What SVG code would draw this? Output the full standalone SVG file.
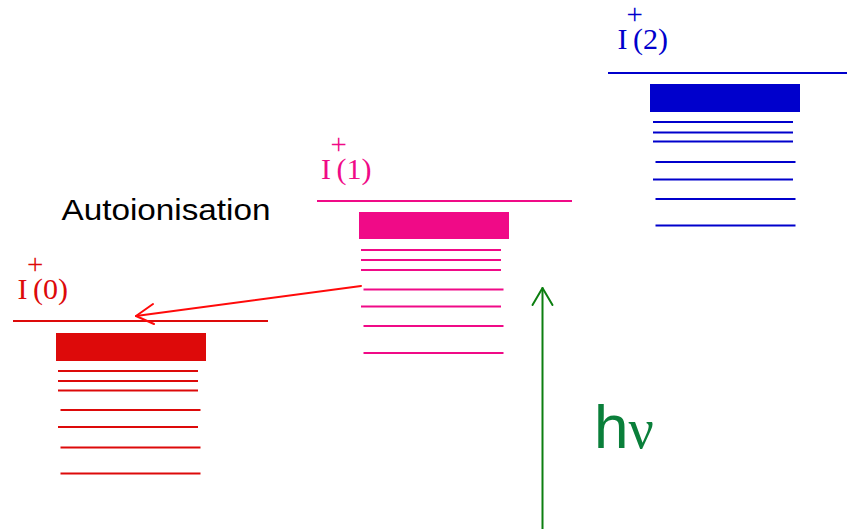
<svg xmlns="http://www.w3.org/2000/svg" width="847" height="529" viewBox="0 0 847 529">
<style>
.lbl{font-family:"Liberation Serif","Times New Roman",serif;font-size:30px}
.plus{font-family:"Liberation Serif","Times New Roman",serif;font-size:29px}
.lv{stroke-width:2;fill:none}
.red{stroke:#dd0a0a}
.pink{stroke:#f00a87}
.blue{stroke:#0000cc}
</style>
<rect width="847" height="529" fill="#fff"/>
<g id="state0">
<text class="plus" x="27" y="274" fill="#dd0a0a">+</text>
<text class="lbl" x="17.5" y="298.5" fill="#dd0a0a">I</text>
<text class="lbl" x="33" y="298.5" fill="#dd0a0a">(0)</text>
<line class="lv red" x1="13" y1="321" x2="268" y2="321"/>
<rect x="56" y="333" width="150" height="28" fill="#dd0a0a"/>
<g class="lv red">
<line x1="58" y1="371" x2="198" y2="371"/>
<line x1="58" y1="381" x2="198" y2="381"/>
<line x1="58" y1="390.5" x2="198" y2="390.5"/>
<line x1="60.5" y1="410" x2="200.5" y2="410"/>
<line x1="58" y1="427" x2="198" y2="427"/>
<line x1="60.5" y1="447.5" x2="200.5" y2="447.5"/>
<line x1="60.5" y1="473.5" x2="200.5" y2="473.5"/>
</g>
</g>
<g id="state1">
<text class="plus" x="330.5" y="153.5" fill="#f00a87">+</text>
<text class="lbl" x="321" y="178.5" fill="#f00a87">I</text>
<text class="lbl" x="336.5" y="178.5" fill="#f00a87">(1)</text>
<line class="lv pink" x1="317" y1="201" x2="572" y2="201"/>
<rect x="359" y="212" width="150" height="27" fill="#f00a87"/>
<g class="lv pink">
<line x1="361" y1="250" x2="501" y2="250"/>
<line x1="361" y1="260" x2="501" y2="260"/>
<line x1="361" y1="270" x2="501" y2="270"/>
<line x1="363.5" y1="289.5" x2="503.5" y2="289.5"/>
<line x1="361" y1="306.5" x2="501" y2="306.5"/>
<line x1="363.5" y1="326" x2="503.5" y2="326"/>
<line x1="363.5" y1="353" x2="503.5" y2="353"/>
</g>
</g>
<g id="state2">
<text class="plus" x="626.5" y="24" fill="#0000cc">+</text>
<text class="lbl" x="617.5" y="48.5" fill="#0000cc">I</text>
<text class="lbl" x="633" y="48.5" fill="#0000cc">(2)</text>
<line class="lv blue" x1="608" y1="73" x2="847" y2="73"/>
<rect x="650" y="84" width="150" height="28" fill="#0000cc"/>
<g class="lv blue">
<line x1="653" y1="122" x2="793" y2="122"/>
<line x1="653" y1="132.5" x2="793" y2="132.5"/>
<line x1="653" y1="141.5" x2="793" y2="141.5"/>
<line x1="655.5" y1="162" x2="795.5" y2="162"/>
<line x1="653" y1="179.5" x2="793" y2="179.5"/>
<line x1="655.5" y1="199" x2="795.5" y2="199"/>
<line x1="655.5" y1="225.5" x2="795.5" y2="225.5"/>
</g>
</g>
<g id="labels">
<text x="61.5" y="220" font-family="'Liberation Sans',Arial,sans-serif" font-size="30" textLength="209" lengthAdjust="spacingAndGlyphs" fill="#000">Autoionisation</text>
<text x="594" y="448" font-family="'Liberation Sans',Arial,sans-serif" font-size="62" fill="#0a7f3a">h<tspan font-family="'Liberation Serif','Times New Roman',serif" font-size="56">ν</tspan></text>
</g>
<g id="connectors" fill="none" stroke-width="2" stroke-linecap="round" stroke-linejoin="round">
<path d="M361 286 L136 316" stroke="#ff0a0a"/>
<path d="M153 304 L136 316 L154 324" stroke="#ff0a0a"/>
<path d="M542.5 529 L542.5 288" stroke="#0c7f10"/>
<path d="M532.5 305 L542.5 288 L552.5 305" stroke="#0c7f10"/>
</g>
</svg>
